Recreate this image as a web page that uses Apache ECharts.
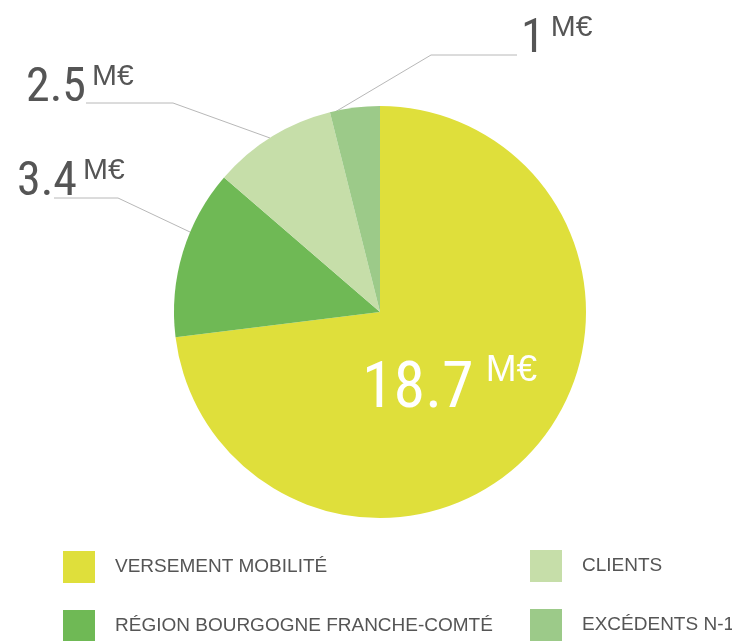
<!DOCTYPE html>
<html>
<head>
<meta charset="utf-8">
<script src="https://cdn.jsdelivr.net/npm/echarts@6/dist/echarts.min.js"></script>
<style>
  html, body { margin: 0; padding: 0; background: #ffffff; }
  #chart { width: 732px; height: 641px; }
</style>
</head>
<body>
<div id="chart"></div>
<script>
// Funding sources (millions of euros)
const categories = ['VERSEMENT MOBILITÉ', 'RÉGION BOURGOGNE FRANCHE-COMTÉ', 'CLIENTS', 'EXCÉDENTS N-1'];
const values = [18.7, 3.4, 2.5, 1];
const unitLabel = 'M€';
const colors = ['#dfdf3b', '#6fb955', '#c6dea9', '#9cca89'];

// Where each value label sits, and its leader line (start at slice edge, elbow, end)
const labelSpots = [
  { x: 362, y: 352, inside: true },
  { x: 17, y: 156, line: [[190, 232], [118, 198], [54, 198]] },
  { x: 26, y: 62, line: [[270, 138], [173, 103], [86, 103]] },
  { x: 521, y: 13, line: [[335, 112], [431, 55], [517, 55]] }
];

const numFont = '"Roboto Condensed", "Liberation Sans", sans-serif';
const unitFont = '"Liberation Sans", Arial, sans-serif';

const pieData = categories.map((name, i) => {
  const spot = labelSpots[i];
  return {
    name: name,
    value: values[i],
    itemStyle: { color: colors[i] },
    label: spot.inside
      ? { position: 'inside', formatter: '{big|{c}}{bigu|' + unitLabel + '}' }
      : { position: 'outside', formatter: '{v|{c}}{u|' + unitLabel + '}' },
    labelLine: { show: !spot.inside }
  };
});

const legendCommon = {
  orient: 'vertical',
  padding: 0,
  height: 120,
  itemWidth: 32, itemHeight: 32, itemGap: 27,
  icon: 'rect',
  selectedMode: false,
  textStyle: { color: '#555555', fontSize: 19, fontFamily: unitFont, padding: [0, 0, 0, 15] }
};

const chart = echarts.init(document.getElementById('chart'), null, { renderer: 'canvas' });

chart.setOption({
  animation: false,
  backgroundColor: '#ffffff',
  legend: [
    Object.assign({ data: [categories[0], categories[1]], left: 63, top: 551 }, legendCommon),
    Object.assign({ data: [categories[2], categories[3]], left: 530, top: 550 }, legendCommon)
  ],
  series: [{
    type: 'pie',
    center: [380, 312],
    radius: [0, 206],
    startAngle: 90,
    clockwise: true,
    silent: true,
    data: pieData,
    label: {
      show: true,
      rich: {
        v: { fontSize: 48, lineHeight: 54, color: '#555555', fontFamily: numFont },
        u: { fontSize: 30, lineHeight: 24, verticalAlign: 'top', color: '#555555', fontFamily: unitFont, padding: [0, 0, 0, 6] },
        big: { fontSize: 64, lineHeight: 78, color: '#ffffff', fontFamily: numFont },
        bigu: { fontSize: 37, lineHeight: 40, verticalAlign: 'top', color: '#ffffff', fontFamily: unitFont, padding: [0, 0, 0, 12] }
      }
    },
    labelLine: {
      lineStyle: { color: '#b8b8b8', width: 1 }
    },
    labelLayout: function (params) {
      const spot = labelSpots[params.dataIndex];
      const out = { x: spot.x, y: spot.y, align: 'left', verticalAlign: 'top' };
      if (spot.line) out.labelLinePoints = spot.line;
      return out;
    }
  }]
});
</script>
</body>
</html>
